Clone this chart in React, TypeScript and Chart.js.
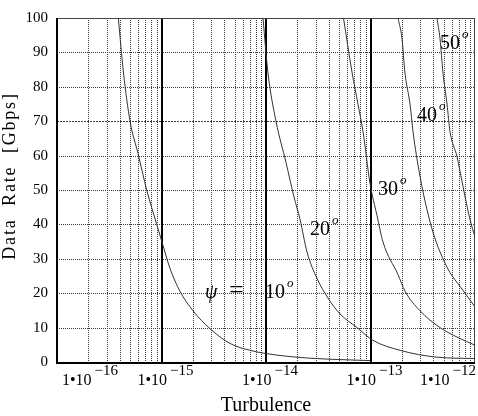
import { useEffect, useRef } from "react";
import { Chart, registerables } from "chart.js";

Chart.register(...registerables);

const SERIF = '"Liberation Serif", "DejaVu Serif", serif';

// axis ticks
const xDecades = [1e-16, 1e-15, 1e-14, 1e-13, 1e-12];
const xDecadeExponents = ["\u221216", "\u221215", "\u221214", "\u221213", "\u221212"];
const xMinorMultipliers = [2, 3, 4, 5, 6, 7, 8, 9];
const yGridValues = [10, 20, 30, 40, 50, 60, 70, 80, 90];

// series: turbulence vs data rate [Gbps]
const turbulence10 = [3.86e-16, 4.33e-16, 5.0e-16, 5.96e-16, 7.22e-16, 9.0e-16, 1.01e-15, 1.21e-15, 1.5e-15, 2.0e-15, 2.91e-15, 4.52e-15, 7.03e-15, 1.27e-14, 1.98e-14, 2.64e-14, 4.1e-14, 1e-13];
const rate10 = [100, 84, 70, 60.6, 50, 40, 34.9, 27.1, 20.6, 14.9, 9.7, 5.4, 3.4, 2.0, 1.4, 1.1, 0.8, 0.4];

const turbulence20 = [9.36e-15, 1.045e-14, 1.246e-14, 1.554e-14, 1.853e-14, 2.115e-14, 2.468e-14, 3.076e-14, 3.92e-14, 5.107e-14, 7.43e-14, 1.056e-13, 1.916e-13, 4.33e-13, 1e-12];
const rate20 = [100, 84, 70, 58, 48, 41.5, 32, 24.3, 18.6, 14, 10, 6.3, 3.4, 1.4, 1.0];

const turbulence30 = [5.515e-14, 6.65e-14, 7.595e-14, 8.477e-14, 9.89e-14, 1.154e-13, 1.317e-13, 1.833e-13, 2.138e-13, 2.976e-13, 4.626e-13, 6.88e-13, 1e-12];
const rate30 = [100, 84.3, 74.9, 67, 52, 42.6, 34.9, 25.4, 20.6, 14.9, 10, 7.1, 4.9];

const turbulence40 = [1.833e-13, 2.002e-13, 2.138e-13, 2.388e-13, 2.551e-13, 2.976e-13, 3.473e-13, 3.964e-13, 4.626e-13, 5.766e-13, 7.185e-13, 1e-12];
const rate40 = [100, 94, 84, 75, 67, 54, 44.3, 37.7, 32, 26, 22, 16];

const turbulence50 = [4.33e-13, 4.626e-13, 4.94e-13, 5.397e-13, 5.766e-13, 6.727e-13, 7.679e-13, 8.96e-13, 1e-12];
const rate50 = [100, 94, 84, 75, 67, 59.7, 51, 41.4, 36.3];

// curve labels (angle in degrees), anchored in data coordinates
const curveLabels = ["10", "20", "30", "40", "50"];
const labelTurbulence = [9.78e-15, 2.64e-14, 1.18e-13, 2.79e-13, 4.63e-13];
const labelRate = [18.6, 36.9, 48.6, 70, 91.1];

const xTitle = "Turbulence";
const yTitle = "Data  Rate  [Gbps]";

const series = [
  { t: turbulence10, r: rate10 },
  { t: turbulence20, r: rate20 },
  { t: turbulence30, r: rate30 },
  { t: turbulence40, r: rate40 },
  { t: turbulence50, r: rate50 },
];

const mathcadPlugin = {
  id: "mathcadLook",
  beforeDraw(chart: any) {
    const { ctx, width, height } = chart;
    ctx.save();
    ctx.fillStyle = "#fff";
    ctx.fillRect(0, 0, width, height);
    ctx.restore();
  },
  beforeDatasetsDraw(chart: any) {
    const { ctx, chartArea: a, scales } = chart;
    const x = scales.x;
    const y = scales.y;
    ctx.save();
    // minor verticals (dotted)
    ctx.strokeStyle = "#3a3a3a";
    ctx.lineWidth = 1;
    ctx.setLineDash([1, 1]);
    for (let i = 0; i < xDecades.length - 1; i++) {
      for (const m of xMinorMultipliers) {
        const px = Math.round(x.getPixelForValue(xDecades[i] * m)) + 0.5;
        ctx.beginPath();
        ctx.moveTo(px, a.top);
        ctx.lineTo(px, a.bottom);
        ctx.stroke();
      }
    }
    // horizontal grid (dotted)
    for (const v of yGridValues) {
      const py = Math.round(y.getPixelForValue(v)) + 0.5;
      ctx.setLineDash(v === 70 ? [2, 1] : [1, 1]);
      ctx.beginPath();
      ctx.moveTo(a.left, py);
      ctx.lineTo(a.right, py);
      ctx.stroke();
    }
    ctx.setLineDash([]);
    // decade lines (solid, thick)
    ctx.strokeStyle = "#000";
    ctx.lineWidth = 2;
    for (let i = 1; i < xDecades.length - 1; i++) {
      const px = Math.round(x.getPixelForValue(xDecades[i]));
      ctx.beginPath();
      ctx.moveTo(px, a.top);
      ctx.lineTo(px, a.bottom);
      ctx.stroke();
    }
    // frame: thin top/right, thick left/bottom
    ctx.lineWidth = 1;
    ctx.strokeStyle = "#444";
    ctx.beginPath();
    ctx.moveTo(a.left, a.top + 0.5);
    ctx.lineTo(a.right, a.top + 0.5);
    ctx.moveTo(a.right - 0.5, a.top);
    ctx.lineTo(a.right - 0.5, a.bottom);
    ctx.stroke();
    ctx.lineWidth = 2;
    ctx.strokeStyle = "#000";
    ctx.beginPath();
    ctx.moveTo(a.left, a.top);
    ctx.lineTo(a.left, a.bottom + 1);
    ctx.lineTo(a.right, a.bottom + 1);
    ctx.stroke();
    ctx.restore();
  },
  afterDraw(chart: any) {
    const { ctx, chartArea: a, scales } = chart;
    const x = scales.x;
    const y = scales.y;
    ctx.save();
    ctx.fillStyle = "#000";
    ctx.textBaseline = "alphabetic";
    ctx.textAlign = "left";

    // x tick labels: 1•10^exp
    for (let i = 0; i < xDecades.length; i++) {
      ctx.font = `16px ${SERIF}`;
      const base = "1\u202210";
      const wb = ctx.measureText(base).width;
      ctx.font = `15px ${SERIF}`;
      const we = ctx.measureText(xDecadeExponents[i]).width;
      const w = wb + 3 + we;
      let left = x.getPixelForValue(xDecades[i]) + 4 - w / 2;
      if (left < a.left + 5) left = a.left + 5;
      if (left + w > a.right + 1) left = a.right + 1 - w;
      ctx.font = `16px ${SERIF}`;
      ctx.fillText(base, left, a.bottom + 23);
      ctx.font = `15px ${SERIF}`;
      ctx.fillText(xDecadeExponents[i], left + wb + 3, a.bottom + 13);
    }

    // x title
    ctx.font = `20px ${SERIF}`;
    ctx.textAlign = "center";
    ctx.fillText(xTitle, (a.left + a.right) / 2, a.bottom + 49);

    // y title
    ctx.save();
    ctx.translate(15, 176);
    ctx.rotate(-Math.PI / 2);
    ctx.font = `18px ${SERIF}`;
    (ctx as any).letterSpacing = "1.8px";
    ctx.textAlign = "center";
    ctx.fillText(yTitle, 0, 0);
    ctx.restore();

    // curve labels
    ctx.textAlign = "left";
    for (let i = 0; i < curveLabels.length; i++) {
      const px = x.getPixelForValue(labelTurbulence[i]);
      const py = y.getPixelForValue(labelRate[i]);
      ctx.font = `20px ${SERIF}`;
      ctx.fillText(curveLabels[i], px, py);
      const w = ctx.measureText(curveLabels[i]).width;
      ctx.font = `italic 13px ${SERIF}`;
      ctx.fillText("o", px + w + 2, py - 11);
      if (i === 0) {
        ctx.font = `italic 20px ${SERIF}`;
        ctx.fillText("\u03c8", px - 60, py);
        ctx.font = `26px ${SERIF}`;
        ctx.fillText("=", px - 36, py);
      }
    }
    ctx.restore();
  },
};

export default function App() {
  const ref = useRef<HTMLCanvasElement | null>(null);
  useEffect(() => {
    document.body.style.margin = "0";
    const canvas = ref.current;
    if (!canvas) return;
    const chart = new Chart(canvas, {
      type: "scatter",
      data: {
        datasets: series.map((s) => ({
          data: s.t.map((t, i) => ({ x: t, y: s.r[i] })),
          showLine: true,
          borderColor: "#333",
          borderWidth: 1,
          pointRadius: 0,
          cubicInterpolationMode: "monotone" as const,
          fill: false,
        })),
      },
      options: {
        animation: false,
        responsive: false,
        devicePixelRatio: 1,
        layout: { padding: { top: 12, right: 3, left: 0, bottom: 0 } },
        plugins: { legend: { display: false }, tooltip: { enabled: false } },
        events: [],
        scales: {
          x: {
            type: "logarithmic",
            min: 1e-16,
            max: 1e-12,
            ticks: { display: false },
            grid: { display: false, drawTicks: false },
            border: { display: false },
            afterFit: (s: any) => {
              s.height = 54;
            },
          },
          y: {
            type: "linear",
            min: 0,
            max: 100,
            ticks: {
              stepSize: 10,
              padding: 9,
              color: "#000",
              font: { family: SERIF, size: 15 },
            },
            grid: { display: false, drawTicks: false },
            border: { display: false },
            afterFit: (s: any) => {
              s.width = 57;
            },
          },
        },
      },
      plugins: [mathcadPlugin],
    } as any);
    return () => chart.destroy();
  }, []);
  return (
    <canvas
      ref={ref}
      width={478}
      height={416}
      style={{ display: "block", width: 478, height: 416 }}
    />
  );
}
